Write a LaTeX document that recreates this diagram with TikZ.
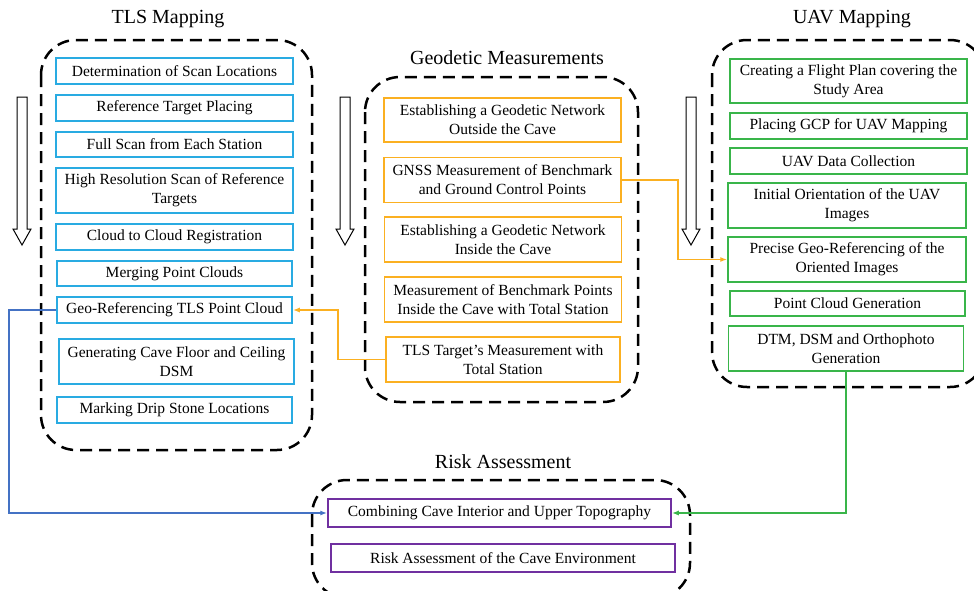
\documentclass[tikz,border=0pt]{standalone}
\usepackage{fontspec}
\setmainfont{Liberation Serif}
\usepackage{tikz}
\usetikzlibrary{arrows.meta}

\definecolor{tlsblue}{RGB}{41,171,226}
\definecolor{geoorange}{RGB}{251,176,33}
\definecolor{uavgreen}{RGB}{57,181,74}
\definecolor{riskpurple}{RGB}{112,48,160}
\definecolor{linkblue}{RGB}{68,114,196}

\begin{document}
\begin{tikzpicture}[x=1pt, y=-1pt,
        stage/.style = {draw, line width = 1.5pt, inner sep = 0pt, align = center,
            minimum width = 237pt, font = \fontsize{15.5}{19}\selectfont},
        tls/.style = {stage, tlsblue, text = black},
        geo/.style = {stage, geoorange, text = black},
        uav/.style = {stage, uavgreen, text = black},
        risk/.style = {stage, riskpurple, text = black},
        frame/.style = {line width = 2.5pt, dash pattern = on 12pt off 7pt, rounded corners = 35pt},
        heading/.style = {font = \fontsize{20}{24}\selectfont},
        flow/.style = {line width = 1.6pt, -{Latex[length = 7pt, width = 5pt]}}]
        \useasboundingbox (0, 0) rectangle (974, 590);

        % group frames
        \draw[frame] (41, 40) rectangle (312, 450);
        \draw[frame] (365, 77) rectangle (638, 402);
        \draw[frame] (712, 40) rectangle (985, 387);
        \draw[frame] (312, 480) rectangle (690, 598);

        \node[heading] (tlshead) at (168, 19) {TLS Mapping};
        \node[heading] (geohead) at (507, 58) {Geodetic Measurements};
        \node[heading] (uavhead) at (852, 19) {UAV Mapping};
        \node[heading] (riskhead) at (503, 462) {Risk Assessment};

        % hollow arrows
        \foreach \x in {22, 345, 691} {
            \draw[line width = 1pt] (\x - 5, 97) -- (\x + 5, 97) -- (\x + 5, 229) -- (\x + 9, 229)
                -- (\x, 245) -- (\x - 9, 229) -- (\x - 5, 229) -- cycle;
        }

        % TLS
        \node[tls, minimum height = 26pt] (t1) at (174.5, 71) {Determination of Scan Locations};
        \node[tls, minimum height = 26pt] (t2) at (174.5, 108) {Reference Target Placing};
        \node[tls, minimum height = 25pt] (t3) at (174.5, 144.5) {Full Scan from Each Station};
        \node[tls, minimum height = 45pt] (t4) at (174.5, 190.5) {High Resolution Scan of Reference\\Targets};
        \node[tls, minimum height = 26pt] (t5) at (174.5, 237) {Cloud to Cloud Registration};
        \node[tls, minimum height = 25pt, minimum width = 235pt] (t6) at (174.5, 273.5) {Merging Point Clouds};
        \node[tls, minimum height = 26pt, minimum width = 235pt] (t7) at (174.5, 310) {Geo-Referencing TLS Point Cloud};
        \node[tls, minimum height = 45pt, minimum width = 235pt] (t8) at (176.5, 361.5) {Generating Cave Floor and Ceiling\\DSM};
        \node[tls, minimum height = 26pt, minimum width = 235pt] (t9) at (174.5, 410) {Marking Drip Stone Locations};

        % geodetic
        \node[geo, minimum height = 44pt] (g1) at (502.5, 120) {Establishing a Geodetic Network\\Outside the Cave};
        \node[geo, minimum height = 45pt] (g2) at (502.5, 180) {GNSS Measurement of Benchmark\\and Ground Control Points};
        \node[geo, minimum height = 45pt] (g3) at (503, 239.5) {Establishing a Geodetic Network\\Inside the Cave};
        \node[geo, minimum height = 45pt] (g4) at (503, 299.5) {Measurement of Benchmark Points\\Inside the Cave with Total Station};
        \node[geo, minimum height = 45pt, minimum width = 234pt] (g5) at (503, 359.5) {TLS Target's Measurement with\\Total Station};

        % UAV
        \node[uav, minimum height = 44pt] (u1) at (848.5, 81) {Creating a Flight Plan covering the\\Study Area};
        \node[uav, minimum height = 26pt] (u2) at (848.5, 126) {Placing GCP for UAV Mapping};
        \node[uav, minimum height = 26pt] (u3) at (848.5, 161) {UAV Data Collection};
        \node[uav, minimum height = 45pt, minimum width = 238pt] (u4) at (847, 205.5) {Initial Orientation of the UAV\\Images};
        \node[uav, minimum height = 45pt, minimum width = 238pt] (u5) at (847, 259.5) {Precise Geo-Referencing of the\\Oriented Images};
        \node[uav, minimum height = 25pt, minimum width = 235pt] (u6) at (847.5, 303.5) {Point Cloud Generation};
        \node[uav, minimum height = 45pt, minimum width = 235pt] (u7) at (846, 348.5) {DTM, DSM and Orthophoto\\Generation};

        % risk
        \node[risk, minimum height = 28pt, minimum width = 343pt] (r1) at (499.5, 513) {Combining Cave Interior and Upper Topography};
        \node[risk, minimum height = 28pt, minimum width = 344pt] (r2) at (503, 558) {Risk Assessment of the Cave Environment};

        % links
        \draw[flow, linkblue] (t7.west) -- ++(-47, 0) |- (r1.west);
        \draw[flow, geoorange] (g5.west) -- ++(-47.5, 0) |- (t7.east);
        \draw[flow, geoorange] (g2.east) -- ++(56.5, 0) |- (u5.west);
        \draw[flow, uavgreen] (u7.south) |- (r1.east);
    \end{tikzpicture}
\end{document}
